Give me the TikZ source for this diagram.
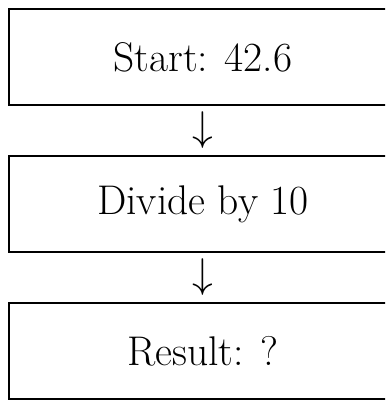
\documentclass[tikz,border=0pt]{standalone}
\usepackage{amssymb}
\usetikzlibrary{positioning,calc}

\tikzset{
	stepbox/.style={draw, line width=1.2pt, minimum width=194pt, minimum height=48pt, outer sep=0pt, font=\huge},
	downarrow/.style={font=\huge, inner sep=0pt}
}

\begin{document}
\begin{tikzpicture}[node distance=25.5pt]
\useasboundingbox (0,0) rectangle (192.5pt,-200.5pt);
\clip (0,0) rectangle (192.5pt,-200.5pt);
\node[stepbox] (start) at (101.5pt,-28.5pt) {Start: 42.6};
\node[stepbox, below=of start] (divide) {Divide by 10};
\node[stepbox, below=of divide] (result) {Result: ?};
% arrows between the boxes
\node[downarrow] (arr1) at ($(start.south)!0.5!(divide.north)$) {$\downarrow$};
\node[downarrow] (arr2) at ($(divide.south)!0.5!(result.north)$) {$\downarrow$};
\end{tikzpicture}
\end{document}
